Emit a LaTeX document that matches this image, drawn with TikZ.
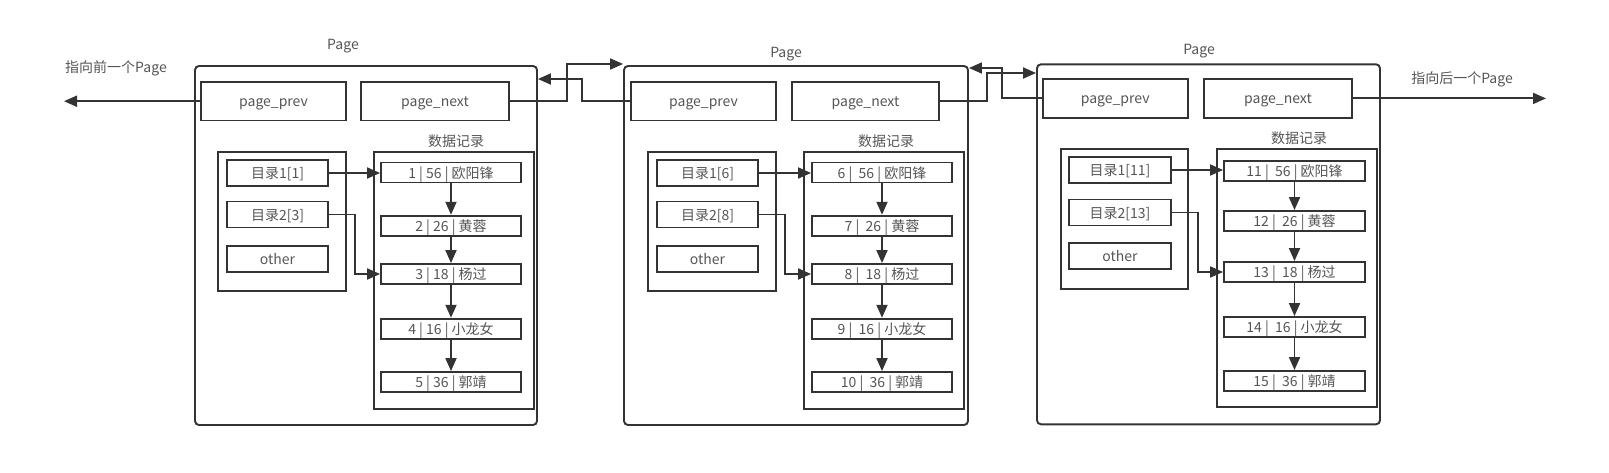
\documentclass[tikz,border=0pt]{standalone}
\usepackage{fontspec}
\setmainfont{Noto Sans CJK SC}
\usetikzlibrary{arrows.meta}
\definecolor{lc}{HTML}{333333}
\definecolor{tc}{HTML}{555555}
\begin{document}
\begin{tikzpicture}[x=1pt,y=-1pt,
  every node/.style={text=tc, font=\fontsize{14}{16}\selectfont, inner sep=0pt},
  box/.style={draw=lc, line width=1.9pt, rectangle, text height=12pt, text depth=1pt},
  pagebox/.style={draw=lc, line width=1.9pt, rectangle, rounded corners=4pt},
  ptr/.style={box, minimum height=38.5pt},
  dirbox/.style={box, minimum width=101pt, minimum height=26pt},
  rec/.style={box, minimum width=140pt, minimum height=20pt},
  lbl/.style={},
  arr/.style={draw=lc, line width=1.9pt, -{Triangle[length=13pt,width=11pt]}}
]
\useasboundingbox (0,0) rectangle (1609,472);

% ---------- Page 1 ----------
\node[pagebox, minimum width=342pt, minimum height=359pt] (pg1) at (366,245.5) {};
\node[lbl] (pg1t) at (343,46) {Page};
\node[ptr, minimum width=145pt] (p1prev) at (273.5,101.2) {page\_prev};
\node[ptr, minimum width=148pt] (p1next) at (435,101.2) {page\_next};
\node[lbl] (p1dt) at (456,141) {数据记录};
\node[box, minimum width=128pt, minimum height=139pt] (p1dir) at (282,221.5) {};
\node[box, minimum width=160pt, minimum height=257pt] (p1rb) at (454,280.5) {};
\node[dirbox] (p1d1) at (277.5,173) {目录1[1]};
\node[dirbox] (p1d2) at (277.5,214.5) {目录2[3]};
\node[dirbox] (p1d3) at (277.5,259) {other};
\node[rec] (p1r1) at (451,172.5) {1 | 56 | 欧阳锋};
\node[rec] (p1r2) at (451,225.7) {2 | 26 | 黄蓉};
\node[rec] (p1r3) at (451,274) {3 | 18 | 杨过};
\node[rec] (p1r4) at (451,328.7) {4 | 16 | 小龙女};
\node[rec] (p1r5) at (451,382) {5 | 36 | 郭靖};

% ---------- Page 2 ----------
\node[pagebox, minimum width=344pt, minimum height=359pt] (pg2) at (796,245.5) {};
\node[lbl] (pg2t) at (786,54) {Page};
\node[ptr, minimum width=145pt] (p2prev) at (703.5,101.2) {page\_prev};
\node[ptr, minimum width=147pt] (p2next) at (865.5,101.2) {page\_next};
\node[lbl] (p2dt) at (886,141) {数据记录};
\node[box, minimum width=128pt, minimum height=139pt] (p2dir) at (712,221.5) {};
\node[box, minimum width=160pt, minimum height=257pt] (p2rb) at (884,280.5) {};
\node[dirbox] (p2d1) at (707.5,173) {目录1[6]};
\node[dirbox] (p2d2) at (707.5,214.5) {目录2[8]};
\node[dirbox] (p2d3) at (707.5,259) {other};
\node[rec] (p2r1) at (882,172.5) {6 |~ 56 | 欧阳锋};
\node[rec] (p2r2) at (882,225.7) {7 |~ 26 | 黄蓉};
\node[rec] (p2r3) at (882,274) {8 |~ 18 | 杨过};
\node[rec] (p2r4) at (882,328.7) {9 |~ 16 | 小龙女};
\node[rec] (p2r5) at (882,382) {10 |~ 36 | 郭靖};

% ---------- Page 3 ----------
\node[pagebox, minimum width=343pt, minimum height=360pt] (pg3) at (1208.5,244.3) {};
\node[lbl] (pg3t) at (1199,51) {Page};
\node[ptr, minimum width=145pt] (p3prev) at (1115.2,98.4) {page\_prev};
\node[ptr, minimum width=147.5pt] (p3next) at (1278,98.4) {page\_next};
\node[lbl] (p3dt) at (1299,138) {数据记录};
\node[box, minimum width=127pt, minimum height=140pt] (p3dir) at (1124.5,219) {};
\node[box, minimum width=160pt, minimum height=258pt] (p3rb) at (1297,278) {};
\node[dirbox, minimum width=102pt] (p3d1) at (1120,170) {目录1[11]};
\node[dirbox, minimum width=102pt] (p3d2) at (1120,212.5) {目录2[13]};
\node[dirbox, minimum width=102pt] (p3d3) at (1120,256) {other};
\node[rec, minimum width=141pt] (p3r1) at (1294.5,171) {11 |~ 56 | 欧阳锋};
\node[rec, minimum width=141pt] (p3r2) at (1294.5,221) {12 |~ 26 | 黄蓉};
\node[rec, minimum width=141pt] (p3r3) at (1294.5,272) {13 |~ 18 | 杨过};
\node[rec, minimum width=141pt] (p3r4) at (1294.5,327) {14 |~ 16 | 小龙女};
\node[rec, minimum width=141pt] (p3r5) at (1294.5,381) {15 |~ 36 | 郭靖};

% ---------- outside labels ----------
\node[lbl] (prevlbl) at (116,68) {指向前一个Page};
\node[lbl] (nextlbl) at (1462,79) {指向后一个Page};
\coordinate (leftend) at (64,101.2);
\coordinate (rightend) at (1546,98.4);

% ---------- record chains ----------
\foreach \p in {1,2,3}{
  \draw[arr] (p\p r1) -- (p\p r2);
  \draw[arr] (p\p r2) -- (p\p r3);
  \draw[arr] (p\p r3) -- (p\p r4);
  \draw[arr] (p\p r4) -- (p\p r5);
  \draw[arr] (p\p d1.east) -- (p\p d1.east -| p\p r1.west);
  \draw[arr] (p\p d2.east) -- ++(26,0) |- (p\p r3.west);
}

% ---------- page links ----------
\draw[arr] (p1prev.west) -- (leftend);
\draw[arr] (p3next.east) -- (rightend);
\draw[arr] (p1next.east) -- ++(57,0) |- (pg2.west |- 0,64);
\draw[arr] (p2prev.west) -- ++(-48,0) |- (pg1.east |- 0,79);
\draw[arr] (p2next.east) -- ++(47,0) |- (pg3.west |- 0,73);
\draw[arr] (p3prev.west) -- ++(-39.5,0) |- (pg2.east |- 0,68);
\end{tikzpicture}
\end{document}
